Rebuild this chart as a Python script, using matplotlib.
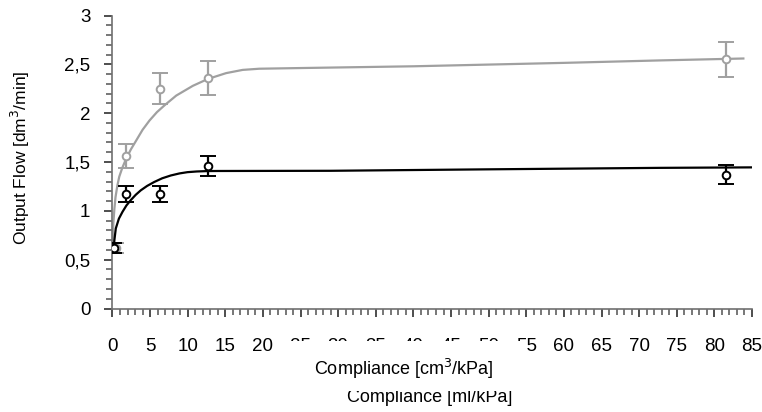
import matplotlib
matplotlib.use("Agg")
import matplotlib.pyplot as plt
from matplotlib.ticker import MultipleLocator, FuncFormatter
from matplotlib.patches import Rectangle

plt.rcParams['font.family'] = ['Liberation Sans', 'DejaVu Sans']

# measured points (x = compliance, y = output flow, e = error)
gray_x = [0.5, 1.8, 6.25, 12.7, 81.5]
gray_y = [0.62, 1.56, 2.25, 2.36, 2.55]
gray_e = [0.05, 0.12, 0.16, 0.17, 0.175]

black_x = [0.15, 1.8, 6.25, 12.7, 81.6]
black_y = [0.62, 1.17, 1.17, 1.46, 1.37]
black_e = [0.05, 0.08, 0.08, 0.10, 0.095]

# trend curves
gray_cx = [0.0, 0.05, 0.12, 0.25, 0.4, 0.65, 0.9, 1.3, 1.82, 2.45, 3.15, 4.0, 4.92, 5.9, 6.91, 8.47, 10.68, 12.67, 15.1, 17.3, 19.5, 25.0, 40.0, 60.0, 72.7, 84.0]
gray_cy = [0.62, 0.75, 0.88, 1.02, 1.14, 1.26, 1.35, 1.44, 1.535, 1.63, 1.72, 1.83, 1.925, 2.01, 2.08, 2.18, 2.28, 2.35, 2.41, 2.443, 2.455, 2.462, 2.48, 2.515, 2.54, 2.56]

black_cx = [0.15, 0.25, 0.44, 0.85, 1.33, 1.85, 2.43, 3.1, 3.76, 4.6, 5.54, 6.6, 7.75, 8.9, 9.97, 11.2, 12.6, 14.0, 29.0, 50.0, 72.7, 85.0]
black_cy = [0.60, 0.70, 0.82, 0.92, 0.99, 1.055, 1.11, 1.165, 1.21, 1.255, 1.295, 1.333, 1.362, 1.383, 1.396, 1.403, 1.407, 1.408, 1.41, 1.425, 1.44, 1.445]

GRAY = '#a0a0a0'
BLACK = '#000000'

fig = plt.figure(figsize=(7.62, 4.12), dpi=100)
ax = fig.add_axes([112.5/762, 1 - 308.5/412, (752-112.5)/762, (308.5-15.5)/412])

ax.plot(gray_cx, gray_cy, color=GRAY, lw=1.6, zorder=2, solid_capstyle='butt')
ax.errorbar(gray_x, gray_y, yerr=gray_e, fmt='o', mfc='white', mec=GRAY, mew=1.4,
            ms=5.5, ecolor=GRAY, elinewidth=1.6, capsize=5.5, capthick=1.6, zorder=3)
ax.plot(black_cx, black_cy, color=BLACK, lw=1.6, zorder=4, solid_capstyle='butt')
ax.errorbar(black_x, black_y, yerr=black_e, fmt='o', mfc='white', mec=BLACK, mew=1.4,
            ms=5.5, ecolor=BLACK, elinewidth=1.6, capsize=5.5, capthick=1.6, zorder=5)

ax.set_xlim(0, 85)
ax.set_ylim(0, 3)
ax.xaxis.set_major_locator(MultipleLocator(5))
ax.xaxis.set_minor_locator(MultipleLocator(1))
ax.yaxis.set_major_locator(MultipleLocator(0.5))
ax.yaxis.set_minor_locator(MultipleLocator(0.1))
fmt = FuncFormatter(lambda v, p: ('%g' % round(v, 2)).replace('.', ','))
ax.xaxis.set_major_formatter(fmt)
ax.yaxis.set_major_formatter(fmt)

for s in ['top', 'right']:
    ax.spines[s].set_visible(False)
for s in ['left', 'bottom']:
    ax.spines[s].set_color('#707070')
    ax.spines[s].set_linewidth(1.2)

ax.tick_params(axis='both', which='major', length=6, width=1.2, color='#303030',
               labelsize=13.5, direction='out')
ax.tick_params(axis='both', which='minor', length=4, width=1.2, color='#606060', direction='out')
ax.tick_params(axis='x', which='major', pad=15)
ax.tick_params(axis='y', which='major', pad=10)

# second label (partly hidden), white box, first label
fig.text(430/762, 1 - 402/412, 'Compliance [ml/kPa]', ha='center', va='baseline',
         fontsize=13, zorder=4)
fig.patches.append(Rectangle((289/762, 1 - 391/412), (527-289)/762, (391-340.5)/412,
                             transform=fig.transFigure, facecolor='white',
                             edgecolor='none', zorder=5))
fig.text(404/762, 1 - 375/412, 'Compliance [cm$^3$/kPa]', ha='center', va='baseline',
         fontsize=13, zorder=6)
fig.text(20/762, 1 - 158/412, 'Output Flow [dm$^3$/min]', ha='center', va='center',
         rotation=90, fontsize=12.5)

fig.savefig('out.png', dpi=100)
